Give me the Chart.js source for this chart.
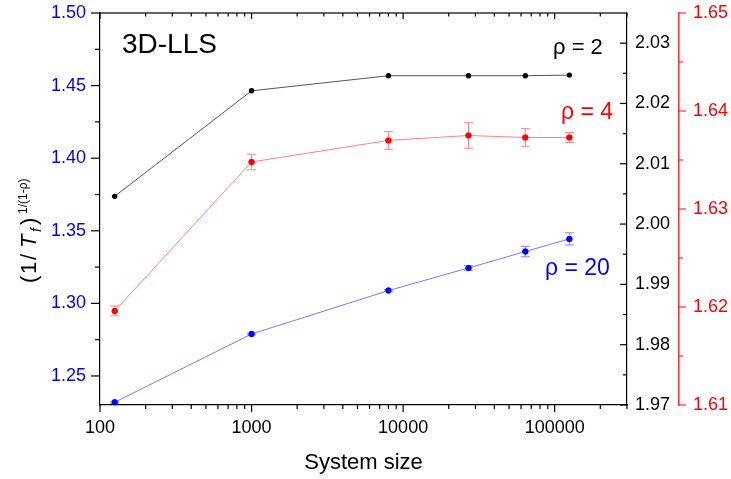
<!DOCTYPE html>
<html>
<head>
<meta charset="utf-8">
<script src="https://cdn.jsdelivr.net/npm/chart.js@4/dist/chart.umd.min.js"></script>
<style>
  html, body { margin: 0; padding: 0; background: #fff; }
  #wrap { width: 731px; height: 479px; position: relative; }
</style>
</head>
<body>
<div id="wrap"><canvas id="c"></canvas></div>
<script>
// ---- data ----
const systemSizes = [125, 1000, 8000, 27000, 64000, 125000];
const rho2Values  = [2.0046, 2.0221, 2.0246, 2.0246, 2.0246, 2.0247];
const rho4Values  = [1.6196, 1.6348, 1.6370, 1.6375, 1.6373, 1.6373];
const rho4Errors  = [0.0005, 0.0008, 0.0009, 0.0013, 0.0009, 0.0005];
const rho20Values = [1.2319, 1.2789, 1.3088, 1.3244, 1.3357, 1.3444];
const rho20Errors = [0.0006, 0.0006, 0.0006, 0.0016, 0.0036, 0.0042];

// ---- tick labels / tick positions ----
const xMajorTicks = [100, 1000, 10000, 100000];
const xMinorTicks = [200,300,400,500,600,700,800,900,2000,3000,4000,5000,6000,7000,8000,9000,
                     20000,30000,40000,50000,60000,70000,80000,90000,200000,300000];
const leftMajorTicks  = [1.25, 1.30, 1.35, 1.40, 1.45, 1.50];
const leftMinorTicks  = [1.275, 1.325, 1.375, 1.425, 1.475];
const blackMajorTicks = [1.97, 1.98, 1.99, 2.00, 2.01, 2.02, 2.03];
const blackMinorTicks = [1.975, 1.985, 1.995, 2.005, 2.015, 2.025];
const redMajorTicks   = [1.61, 1.62, 1.63, 1.64, 1.65];
const redMinorTicks   = [1.615, 1.625, 1.635, 1.645];

const FONT = "'Liberation Sans', Arial, sans-serif";
Chart.defaults.font.family = FONT;

const toXY = (ys) => systemSizes.map((x, i) => ({ x: x, y: ys[i] }));

const errorBarPlugin = {
  id: 'errorBars',
  afterDatasetsDraw(chart) {
    const ctx = chart.ctx;
    chart.data.datasets.forEach((ds, di) => {
      if (!ds.errors) return;
      const meta = chart.getDatasetMeta(di);
      const ys = chart.scales[ds.yAxisID];
      ctx.save();
      ctx.strokeStyle = ds.errorColor;
      ctx.lineWidth = 1;
      meta.data.forEach((pt, i) => {
        const v = ds.data[i].y, e = ds.errors[i];
        const y1 = ys.getPixelForValue(v - e), y2 = ys.getPixelForValue(v + e);
        const x = pt.x, w = 4.5;
        ctx.beginPath();
        ctx.moveTo(x, y1); ctx.lineTo(x, y2);
        ctx.moveTo(x - w, y1); ctx.lineTo(x + w, y1);
        ctx.moveTo(x - w, y2); ctx.lineTo(x + w, y2);
        ctx.stroke();
      });
      ctx.restore();
      meta.data.forEach(pt => pt.draw(ctx, chart.chartArea));
    });
  }
};

const decorPlugin = {
  id: 'decor',
  afterDraw(chart) {
    const ctx = chart.ctx;
    const ca = chart.chartArea;
    const sx = chart.scales.x, sl = chart.scales.y, sb = chart.scales.yB, sr = chart.scales.yR;
    ctx.save();
    // top border
    ctx.fillStyle = '#000';
    ctx.fillRect(ca.left, ca.top - 0.6, ca.right - ca.left, 1.2);

    function vTicks(scale, vals, x0, len, color) {
      ctx.fillStyle = color;
      vals.forEach(v => {
        const y = scale.getPixelForValue(v);
        const xs = Math.min(x0, x0 + len);
        ctx.fillRect(xs, y - 0.6, Math.abs(len), 1.2);
      });
    }
    function hTicks(scale, vals, y0, len, color) {
      ctx.fillStyle = color;
      vals.forEach(v => {
        const x = scale.getPixelForValue(v);
        const ys = Math.min(y0, y0 + len);
        ctx.fillRect(x - 0.6, ys, 1.2, Math.abs(len));
      });
    }
    hTicks(sx, xMajorTicks, ca.bottom, 7, '#000');
    hTicks(sx, xMinorTicks, ca.bottom, 4, '#000');
    hTicks(sx, xMajorTicks, ca.top, 6, '#000');
    hTicks(sx, xMinorTicks, ca.top, 3.5, '#000');
    vTicks(sl, leftMajorTicks, ca.left, -9, '#000');
    vTicks(sl, leftMinorTicks, ca.left, -5, '#000');
    vTicks(sb, blackMajorTicks, ca.right, -7, '#000');
    vTicks(sb, blackMinorTicks, ca.right, -4, '#000');
    vTicks(sr, redMajorTicks, sr.left, 7, '#ff3030');
    vTicks(sr, redMinorTicks, sr.left, 4, '#ff3030');

    // annotations
    ctx.textBaseline = 'alphabetic';
    ctx.textAlign = 'left';
    ctx.fillStyle = '#000';
    ctx.font = '28px ' + FONT;
    ctx.fillText('3D-LLS', 122, 53);
    ctx.font = '22px ' + FONT;
    ctx.fillText('\u03C1 = 2', 553, 54);
    ctx.fillStyle = '#ff0000';
    ctx.font = '23px ' + FONT;
    ctx.fillText('\u03C1 = 4', 561, 118.5);
    ctx.fillStyle = '#0000ff';
    ctx.fillText('\u03C1 = 20', 545, 275);

    // y-axis title (1/T_f)^{1/(1-rho)}
    ctx.save();
    ctx.translate(36, 283);
    ctx.rotate(-Math.PI / 2);
    ctx.fillStyle = '#000';
    ctx.font = '22px ' + FONT;
    ctx.fillText('(', 0, 0);
    ctx.fillText('1', 9, 0);
    ctx.fillText('/', 23, 0);
    ctx.font = 'italic 22px ' + FONT;
    ctx.fillText('T', 35, 0);
    ctx.font = 'italic 14px ' + FONT;
    ctx.fillText('f', 51, 5);
    ctx.font = '22px ' + FONT;
    ctx.fillText(')', 58, 0);
    ctx.font = '12px ' + FONT;
    ctx.fillText('1/(1-\u03C1)', 69, -9);
    ctx.restore();

    ctx.restore();
  }
};

const fmt2 = v => Number(v).toFixed(2);
const fitV = w => s => { s.width = w; s.paddingTop = 0; s.paddingBottom = 0; };

new Chart(document.getElementById('c'), {
  type: 'line',
  data: {
    datasets: [
      {
        label: 'rho = 2', data: toXY(rho2Values), yAxisID: 'yB',
        borderColor: '#555555', borderWidth: 1, backgroundColor: '#000', pointBackgroundColor: '#000',
        pointBorderColor: '#000', pointRadius: 2.7, pointBorderWidth: 0, tension: 0, clip: false
      },
      {
        label: 'rho = 4', data: toXY(rho4Values), yAxisID: 'yR', errors: rho4Errors, errorColor: '#ff8080',
        borderColor: '#ff8080', borderWidth: 1, backgroundColor: '#ff0000', pointBackgroundColor: '#ff0000',
        pointBorderColor: '#ff0000', pointRadius: 3, pointBorderWidth: 0, tension: 0, clip: false
      },
      {
        label: 'rho = 20', data: toXY(rho20Values), yAxisID: 'y', errors: rho20Errors, errorColor: '#8080ff',
        borderColor: '#7878ff', borderWidth: 1, backgroundColor: '#0000ff', pointBackgroundColor: '#0000ff',
        pointBorderColor: '#0000ff', pointRadius: 3, pointBorderWidth: 0, tension: 0, clip: false
      }
    ]
  },
  options: {
    responsive: true,
    maintainAspectRatio: false,
    animation: false,
    layout: { padding: { top: 13, left: 0, right: 0, bottom: 0 } },
    plugins: { legend: { display: false }, tooltip: { enabled: false } },
    scales: {
      x: {
        type: 'logarithmic', position: 'bottom', min: 100, max: 300000,
        grid: { display: false, drawTicks: false },
        border: { display: true, color: '#000', width: 1.2 },
        afterBuildTicks: s => { s.ticks = xMajorTicks.map(v => ({ value: v })); },
        ticks: { autoSkip: false, maxRotation: 0, padding: 12, color: '#000', font: { size: 18 }, callback: v => String(v) },
        title: { display: true, text: 'System size', color: '#000', font: { size: 22 }, padding: { top: 0, bottom: 3 } },
        afterFit: s => { s.height = 74; s.paddingLeft = 0; s.paddingRight = 0; }
      },
      y: {
        position: 'left', min: 1.23, max: 1.50,
        grid: { display: false, drawTicks: false },
        border: { display: true, color: '#000', width: 1.2 },
        afterBuildTicks: s => { s.ticks = leftMajorTicks.map(v => ({ value: v })); },
        ticks: { padding: 14, color: '#0000ff', font: { size: 18 }, callback: fmt2 },
        afterFit: fitV(100)
      },
      yB: {
        position: 'right', min: 1.97, max: 2.035,
        grid: { display: false, drawTicks: false },
        border: { display: true, color: '#000', width: 1.2 },
        afterBuildTicks: s => { s.ticks = blackMajorTicks.map(v => ({ value: v })); },
        ticks: { padding: 8, color: '#000', font: { size: 18 }, callback: fmt2 },
        afterFit: fitV(52)
      },
      yR: {
        position: 'right', min: 1.61, max: 1.65,
        grid: { display: false, drawTicks: false },
        border: { display: true, color: '#ff3030', width: 1.5 },
        afterBuildTicks: s => { s.ticks = redMajorTicks.map(v => ({ value: v })); },
        ticks: { padding: 14, color: '#ff0000', font: { size: 18 }, callback: fmt2 },
        afterFit: fitV(52)
      }
    }
  },
  plugins: [errorBarPlugin, decorPlugin]
});
</script>
</body>
</html>
